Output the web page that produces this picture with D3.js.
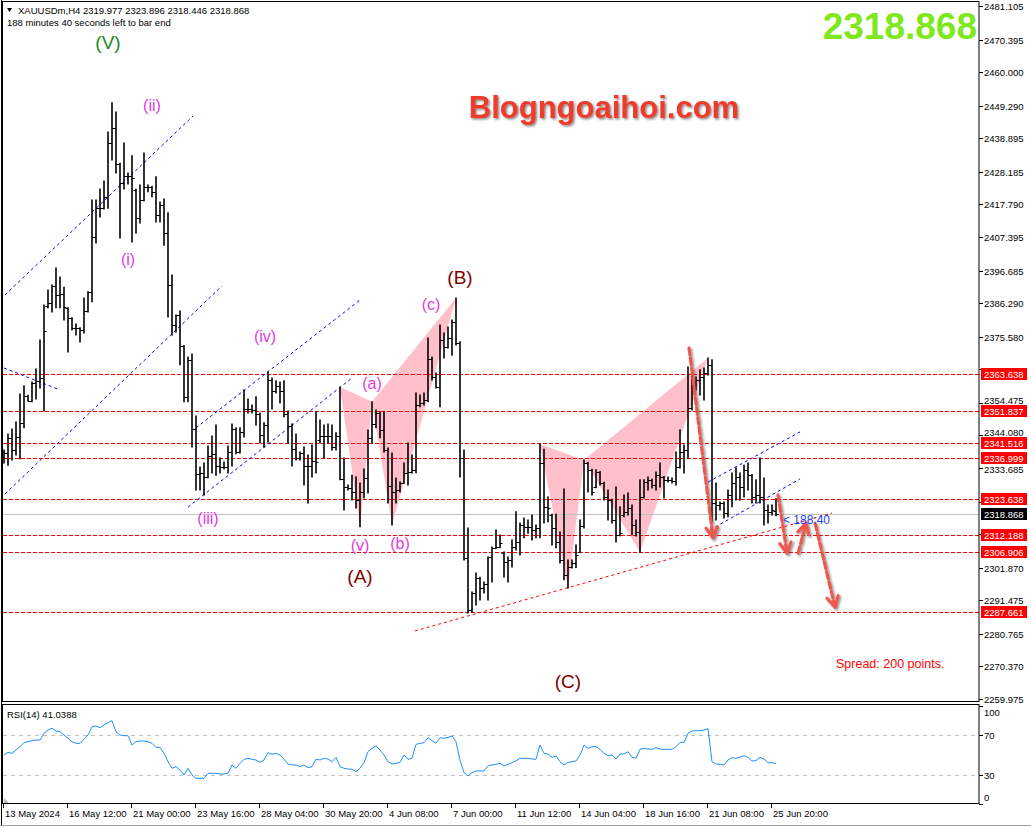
<!DOCTYPE html>
<html>
<head>
<meta charset="utf-8">
<script src="https://cdn.jsdelivr.net/npm/d3@7/dist/d3.min.js"></script>
<style>
  html, body { margin: 0; padding: 0; background: #fff; }
  svg { display: block; font-family: "Liberation Sans", Arial, sans-serif; }
</style>
</head>
<body>
<div id="chart"></div>
<script>
'use strict'

////////////////////////////////////
/////////////// data ///////////////
////////////////////////////////////

const symbol = 'XAUUSDm,H4'
const timeLeft = '188 minutes 40 seconds left to bar end'
const countdown = '< 188:40'
const spreadText = 'Spread: 200 points.'
const logoText = 'Blogngoaihoi.com'

// H4 bars, oldest first (13 May 2024 -> 26 Jun 2024)
const opens = [
  2337.2,2338.5,2343.3,2339.4,2343.6,2348.1,2356.7,2355.1,2360.8,2361.5,
  2362.4,2385.4,2386.3,2391.8,2388.9,2389.2,2384.8,2381.6,2378.4,2378.4,
  2377.7,2383.8,2389.9,2407.4,2416.6,2416.6,2420.2,2437.4,2442.2,2430.7,
  2424.6,2426.9,2426.9,2422.4,2413.5,2419.2,2423.4,2423.4,2421.8,2414.4,
  2417.6,2408.7,2392.1,2379.3,2382.5,2372.6,2356.4,2368.2,2346.1,2331.8,
  2332.1,2330.8,2337.5,2338.2,2334.3,2334.0,2334.0,2338.8,2346.1,2338.8,
  2345.2,2352.5,2352.5,2352.2,2350.9,2344.2,2347.4,2361.8,2358.3,2359.9,
  2358.3,2350.9,2347.1,2339.7,2336.9,2338.5,2334.3,2334.3,2335.9,2342.6,
  2343.9,2343.9,2343.9,2340.4,2343.9,2330.2,2327.6,2327.3,2326.0,2323.5,
  2326.0,2330.5,2343.3,2347.7,2351.2,2345.8,2339.4,2327.9,2326.0,2326.7,
  2328.9,2332.1,2332.4,2333.1,2353.8,2354.4,2355.4,2368.5,2362.7,2359.5,
  2374.5,2372.3,2375.2,2380.3,2373.6,2336.9,2305.0,2288.4,2293.8,2298.6,
  2295.4,2296.7,2305.3,2308.2,2308.5,2306.6,2303.7,2304.3,2308.5,2310.1,
  2315.5,2314.9,2314.9,2313.9,2314.5,2335.3,2321.3,2318.7,2314.5,2310.1,
  2304.3,2299.5,2302.1,2303.4,2306.9,2315.2,2335.3,2333.1,2327.6,2332.4,
  2328.9,2324.4,2323.5,2317.1,2312.3,2318.7,2319.7,2321.0,2315.5,2313.3,
  2324.4,2329.2,2329.9,2328.3,2331.4,2330.8,2329.9,2329.9,2329.5,2334.0,
  2338.8,2339.4,2352.8,2359.2,2361.8,2362.7,2364.0,2366.6,2322.5,2321.9,
  2322.5,2319.4,2325.1,2328.9,2330.8,2327.6,2333.1,2331.4,2324.4,2325.1,
  2324.4,2320.3,2319.7,2319.977
]
const highs = [
  2339.4,2344.5,2346.1,2348.4,2357.3,2359.9,2356.9,2361.1,2365.3,2374.5,
  2385.7,2390.5,2392.1,2397.5,2394.6,2391.4,2384.8,2381.6,2379.6,2378.4,
  2387.9,2389.9,2419.2,2419.2,2422.7,2425.3,2440.9,2450.2,2447.3,2430.9,
  2437.4,2427.8,2433.3,2422.6,2424.0,2434.2,2424.0,2423.6,2426.6,2418.6,
  2419.5,2415.1,2395.3,2382.5,2383.8,2372.8,2369.1,2370.1,2350.3,2334.0,
  2335.3,2340.7,2343.9,2347.4,2336.9,2335.6,2340.7,2347.7,2346.5,2346.5,
  2358.6,2355.7,2353.8,2356.4,2351.2,2348.1,2364.3,2362.4,2361.5,2361.1,
  2361.5,2351.9,2347.7,2344.5,2338.8,2340.4,2337.8,2341.0,2351.6,2349.0,
  2347.4,2347.7,2347.4,2344.9,2359.5,2336.9,2328.3,2331.4,2330.8,2328.9,
  2333.4,2345.8,2354.8,2352.2,2351.6,2351.6,2340.1,2338.5,2330.5,2329.2,
  2335.3,2341.7,2337.8,2357.6,2357.0,2357.6,2375.2,2369.1,2364.0,2379.3,
  2376.8,2378.7,2380.9,2387.9,2374.0,2339.4,2314.5,2294.1,2300.2,2298.8,
  2297.3,2305.3,2308.5,2313.9,2312.3,2306.9,2305.3,2310.7,2319.7,2316.1,
  2317.7,2317.1,2318.7,2315.5,2341.3,2339.7,2324.4,2318.9,2318.9,2313.3,
  2327.0,2304.3,2304.3,2309.1,2317.1,2336.2,2335.5,2333.3,2333.1,2332.6,
  2329.1,2326.7,2323.7,2327.6,2321.3,2325.1,2325.7,2321.9,2317.1,2329.9,
  2329.9,2330.8,2330.1,2332.4,2335.3,2331.0,2330.8,2330.5,2338.8,2345.8,
  2341.0,2365.9,2364.0,2362.7,2365.0,2365.6,2368.8,2368.2,2328.9,2322.8,
  2322.8,2326.7,2332.1,2333.7,2332.1,2334.6,2335.3,2331.6,2329.9,2336.9,
  2330.5,2321.9,2321.9,2323.896
]
const lows = [
  2335.3,2334.6,2336.2,2337.8,2336.6,2346.5,2355.1,2354.8,2355.7,2359.2,
  2351.9,2384.8,2383.5,2384.8,2384.8,2380.9,2370.7,2377.7,2376.1,2373.9,
  2376.8,2383.5,2386.7,2405.5,2413.8,2416.3,2416.6,2432.0,2427.8,2407.1,
  2422.7,2424.3,2405.8,2408.7,2411.9,2419.0,2421.8,2420.2,2412.2,2412.2,
  2404.8,2381.9,2376.1,2377.1,2366.6,2354.8,2354.8,2340.4,2326.7,2326.7,
  2325.1,2330.6,2332.1,2331.4,2332.1,2333.4,2332.1,2334.3,2338.2,2338.5,
  2343.6,2351.2,2351.2,2347.4,2341.7,2340.4,2342.0,2352.5,2357.6,2354.4,
  2350.0,2341.7,2334.3,2336.2,2336.2,2328.3,2322.5,2330.8,2332.1,2341.7,
  2336.9,2341.7,2339.4,2339.4,2329.9,2320.3,2326.7,2323.5,2320.9,2314.9,
  2324.1,2325.7,2341.7,2346.5,2343.3,2338.8,2322.5,2315.5,2322.5,2326.0,
  2328.7,2328.3,2332.1,2332.2,2353.2,2353.8,2354.8,2361.8,2359.2,2353.2,
  2368.8,2372.0,2369.7,2372.9,2330.8,2304.3,2287.4,2287.7,2290.0,2291.6,
  2293.8,2291.6,2297.3,2308.0,2308.3,2298.9,2297.3,2302.1,2307.5,2305.9,
  2311.4,2312.9,2310.7,2311.4,2311.4,2316.1,2316.5,2309.1,2308.2,2303.4,
  2298.0,2295.4,2301.8,2301.9,2306.7,2314.5,2326.0,2325.1,2327.4,2328.3,
  2323.5,2317.1,2316.1,2310.1,2312.1,2318.1,2318.7,2312.3,2312.0,2306.9,
  2324.1,2326.7,2327.3,2326.7,2327.6,2324.1,2329.2,2328.9,2328.3,2333.7,
  2332.1,2336.9,2352.2,2358.6,2357.0,2355.4,2363.4,2316.5,2317.1,2320.3,
  2317.7,2318.1,2321.3,2323.5,2323.5,2324.4,2326.7,2322.5,2322.5,2322.5,
  2315.5,2316.1,2318.7,2318.446
]
const closes = [
  2338.5,2343.3,2339.4,2343.6,2348.1,2356.7,2355.1,2360.8,2361.5,2362.4,
  2377.4,2386.3,2391.8,2388.9,2389.2,2385.1,2381.6,2378.4,2378.4,2377.7,
  2383.8,2389.9,2407.4,2416.6,2416.6,2420.2,2437.4,2442.2,2430.7,2424.6,
  2426.9,2426.9,2426.2,2413.5,2419.2,2423.4,2423.4,2421.8,2414.4,2417.6,
  2408.7,2392.1,2379.3,2382.5,2372.6,2356.4,2368.2,2346.1,2331.8,2332.1,
  2330.8,2337.5,2338.2,2334.3,2334.0,2334.0,2338.8,2346.1,2338.8,2345.2,
  2352.5,2352.5,2352.2,2350.9,2344.2,2347.4,2361.8,2358.3,2359.9,2358.3,
  2350.9,2347.1,2339.7,2336.9,2338.5,2334.3,2334.3,2335.9,2335.6,2343.9,
  2343.9,2343.9,2340.4,2343.9,2330.2,2327.6,2327.3,2326.0,2323.5,2326.0,
  2330.5,2343.3,2347.7,2351.2,2345.8,2339.4,2327.9,2326.0,2326.7,2328.9,
  2332.1,2332.4,2333.1,2353.8,2354.4,2355.4,2368.5,2362.7,2359.5,2374.5,
  2372.3,2375.2,2380.3,2373.6,2336.9,2305.0,2288.4,2293.8,2298.6,2295.4,
  2296.7,2305.3,2308.2,2308.5,2309.8,2303.7,2304.3,2308.5,2310.1,2315.5,
  2314.9,2314.9,2313.9,2314.5,2335.3,2321.3,2321.0,2314.5,2310.1,2304.3,
  2299.5,2302.1,2303.4,2305.9,2315.2,2335.3,2333.1,2326.0,2332.4,2328.9,
  2324.4,2323.5,2317.1,2312.3,2312.9,2319.7,2321.0,2315.5,2313.3,2324.4,
  2329.2,2329.9,2328.3,2331.4,2330.8,2329.9,2329.9,2329.5,2334.0,2338.8,
  2339.4,2352.8,2359.2,2361.8,2362.7,2364.0,2366.6,2322.5,2321.9,2322.5,
  2319.4,2325.1,2328.9,2330.8,2327.6,2333.1,2331.4,2324.4,2325.1,2324.4,
  2320.3,2319.7,2320.3,2318.868
]
const rsi = [
  50.0,52.7,51.7,55.1,58.5,62.6,63.6,64.6,65.3,65.3,
  72.1,75.5,77.2,74.5,73.8,70.4,67.0,63.6,61.9,61.9,
  66.0,70.4,78.9,79.6,77.9,80.6,83.0,85.0,73.8,70.4,
  69.7,69.7,60.2,63.6,64.3,64.3,63.6,61.9,57.8,57.8,
  51.7,43.2,36.4,38.1,34.7,29.6,36.4,29.6,26.2,26.2,
  26.2,31.3,31.3,31.3,30.6,30.6,31.3,39.8,36.4,41.5,
  45.6,46.6,45.6,44.9,42.5,44.9,52.4,50.7,51.7,50.0,
  45.6,40.8,39.8,39.8,38.1,39.8,37.1,38.1,45.6,44.9,
  46.6,45.9,43.2,47.6,38.1,36.4,35.7,35.4,33.0,36.4,
  42.2,53.4,56.8,59.2,55.1,50.0,43.2,40.8,41.5,42.5,
  50.0,45.6,46.6,60.9,61.9,62.6,67.7,64.6,61.9,67.7,
  67.0,68.0,69.4,63.6,44.9,32.0,28.6,32.0,33.7,33.7,
  33.7,38.8,39.8,40.5,41.5,38.8,40.5,42.2,44.0,46.6,
  46.6,46.6,45.9,45.6,60.2,51.7,51.0,47.6,49.0,43.2,
  39.8,42.5,43.2,43.9,50.0,60.2,56.8,58.5,58.5,55.8,
  51.7,49.3,50.0,45.9,51.0,51.0,53.4,47.6,46.6,55.8,
  56.8,56.1,55.8,57.5,56.1,55.8,55.8,55.8,58.5,62.9,
  62.9,72.1,74.5,74.8,74.8,75.5,76.9,43.2,40.8,40.5,
  39.8,44.9,47.3,46.6,47.6,49.3,47.6,43.9,44.2,47.6,
  45.9,42.2,42.2,41.0388
]

// time axis: one label every 16 bars
const timeLabels = ['13 May 2024','16 May 12:00','21 May 00:00','23 May 16:00','28 May 04:00',
  '30 May 20:00','4 Jun 08:00','7 Jun 00:00','11 Jun 12:00','14 Jun 04:00','18 Jun 16:00',
  '21 Jun 08:00','25 Jun 20:00']
const priceTicks = [2481.105,2470.395,2460.000,2449.290,2438.895,2428.185,2417.790,2407.395,
  2396.685,2386.290,2375.580,2365.185,2354.475,2344.080,2333.685,2322.975,2312.580,2301.870,
  2291.475,2280.765,2270.370,2259.975]
const levels = [2363.638,2351.837,2341.516,2336.999,2323.638,2312.188,2306.906,2287.661]
const rsiTicks = [100,70,30,0]
const rsiLevels = [70,30]

// elliott wave labels: text, bar index, price, kind
const waveLabels = [
  ['(V)', 26, 2469.6, 'cycle'],
  ['(ii)', 37, 2449.2, 'minor'],
  ['(i)', 31, 2400.1, 'minor'],
  ['(iii)', 51, 2317.7, 'minor'],
  ['(iv)', 65.25, 2375.5, 'minor'],
  ['(v)', 89, 2309.1, 'minor'],
  ['(a)', 92, 2360.8, 'minor'],
  ['(b)', 99, 2309.7, 'minor'],
  ['(c)', 106.75, 2385.7, 'minor'],
  ['(A)', 89, 2299.2, 'major'],
  ['(B)', 114, 2394.6, 'major'],
  ['(C)', 141, 2265.7, 'major']
]
// channel lines: [bar1, price1, bar2, price2]
const channels = [
  [0.25, 2388.9, 47.25, 2446.0],
  [0.25, 2325.4, 54.5, 2391.8],
  [0, 2365.6, 14, 2358.6],
  [48, 2346.5, 89, 2387.3],
  [46, 2321.2, 87, 2362.4],
  [176, 2329.2, 199, 2345.2],
  [176.5, 2313.9, 199, 2330.2]
]
const trendLines = [[102.75, 2281.7, 207, 2319.3]]
// harmonic patterns X A B C D as bar indices (X,B,D on highs, A,C on lows)
const patterns = [[84, 89, 92, 97, 113], [134, 141, 145, 159, 176]]
// projection arrows: [bar1, price1, bar2, price2]
const arrows = [
  [171.25, 2372.0, 177.25, 2311.4],
  [193.5, 2325.1, 195.75, 2306.5],
  [198.5, 2306.5, 200.5, 2316.1],
  [202.75, 2316.1, 207.75, 2289.3]
]

////////////////////////////////////
//////////// svg setup /////////////
////////////////////////////////////

const svgWidth = 1031, svgHeight = 828
const plot = { left: 3, right: 979, top: 2, bottom: 702 }
const sub = { top: 705, bottom: 804 }
const n = closes.length

const svg = d3.select('#chart').append('svg')
  .attr('width', svgWidth).attr('height', svgHeight)
  .attr('viewBox', `0 0 ${svgWidth} ${svgHeight}`)

svg.append('rect').attr('width', svgWidth).attr('height', svgHeight).attr('fill', '#fff')

const defs = svg.append('defs')
defs.append('clipPath').attr('id', 'clipMain').append('rect')
  .attr('x', plot.left).attr('y', plot.top)
  .attr('width', plot.right - plot.left).attr('height', plot.bottom - plot.top)
const sh = defs.append('filter').attr('id', 'shadow')
  .attr('x', '-50%').attr('y', '-50%').attr('width', '200%').attr('height', '200%')
sh.append('feDropShadow').attr('dx', 1.5).attr('dy', 1.5).attr('stdDeviation', 1.2)
  .attr('flood-color', '#555').attr('flood-opacity', 0.7)

const x = d3.scaleLinear().domain([0, n - 1]).range([4, 4 + 4 * (n - 1)])
const y = d3.scaleLinear().domain([2259.975, 2481.105]).range([699, 6])
const yR = d3.scaleLinear().domain([0, 100]).range([sub.bottom, sub.top + 1])

const main = svg.append('g').attr('clip-path', 'url(#clipMain)')

////////////////////////////////////
///////// harmonic patterns ////////
////////////////////////////////////

patterns.forEach(p => {
  const pts = p.map((b, i) => [x(b), y(i % 2 == 0 ? highs[b] : lows[b])])
  ;[[0, 1, 2], [2, 3, 4]].forEach(tri => {
    main.append('path')
      .attr('d', 'M' + tri.map(k => pts[k].join(',')).join('L') + 'Z')
      .attr('fill', '#ffc0cb')
  })
})

// horizontal levels
main.selectAll('.level').data(levels).join('line')
  .attr('class', 'level')
  .attr('x1', plot.left).attr('x2', plot.right)
  .attr('y1', d => Math.round(y(d)) + 0.5).attr('y2', d => Math.round(y(d)) + 0.5)
  .attr('stroke', '#ff0000').attr('stroke-dasharray', '4,2')

// current price line
const last = closes[n - 1]
main.append('line')
  .attr('x1', plot.left).attr('x2', plot.right)
  .attr('y1', Math.round(y(last)) + 0.5).attr('y2', Math.round(y(last)) + 0.5)
  .attr('stroke', '#c0c0c0')

// channels + trendline
main.selectAll('.chan').data(channels).join('line')
  .attr('class', 'chan')
  .attr('x1', d => x(d[0])).attr('y1', d => y(d[1]))
  .attr('x2', d => x(d[2])).attr('y2', d => y(d[3]))
  .attr('stroke', '#0000ff').attr('stroke-dasharray', '3,3')

main.selectAll('.trend').data(trendLines).join('line')
  .attr('class', 'trend')
  .attr('x1', d => x(d[0])).attr('y1', d => y(d[1]))
  .attr('x2', d => x(d[2])).attr('y2', d => y(d[3]))
  .attr('stroke', '#ff0000').attr('stroke-dasharray', '3,3')

////////////////////////////////////
//////////// ohlc bars /////////////
////////////////////////////////////

const bars = main.append('g').attr('stroke', '#000')
d3.range(n).forEach(i => {
  const cx = x(i)
  bars.append('line').attr('x1', cx).attr('x2', cx)
    .attr('y1', y(highs[i]) - 0.5).attr('y2', y(lows[i]) + 0.5)
    .attr('stroke-width', 1.6)
  bars.append('line').attr('x1', cx - 2.5).attr('x2', cx)
    .attr('y1', Math.round(y(opens[i])) + 0.5).attr('y2', Math.round(y(opens[i])) + 0.5)
  bars.append('line').attr('x1', cx).attr('x2', cx + 2.5)
    .attr('y1', Math.round(y(closes[i])) + 0.5).attr('y2', Math.round(y(closes[i])) + 0.5)
})

////////////////////////////////////
//////////// annotations ///////////
////////////////////////////////////

const labelStyle = {
  cycle: { fill: '#1b8a1b', size: 19 },
  major: { fill: '#800000', size: 19 },
  minor: { fill: '#e23be2', size: 16 }
}
main.selectAll('.wave').data(waveLabels).join('text')
  .attr('class', 'wave')
  .attr('x', d => x(d[1])).attr('y', d => y(d[2]))
  .attr('text-anchor', 'middle').attr('dominant-baseline', 'central')
  .attr('fill', d => labelStyle[d[3]].fill)
  .attr('font-size', d => labelStyle[d[3]].size)
  .text(d => d[0])

const arrowG = main.append('g').attr('filter', 'url(#shadow)')
  .attr('stroke', '#f2564c').attr('stroke-width', 3).attr('fill', 'none')
  .attr('stroke-linecap', 'round')
arrows.forEach(a => {
  const x1 = x(a[0]), y1 = y(a[1]), x2 = x(a[2]), y2 = y(a[3])
  const ang = Math.atan2(y2 - y1, x2 - x1), hl = 12, spread = 0.5
  arrowG.append('line').attr('x1', x1).attr('y1', y1).attr('x2', x2).attr('y2', y2)
    .attr('stroke-dasharray', '7,3')
  arrowG.append('path')
    .attr('d', `M${x2 - hl * Math.cos(ang - spread)},${y2 - hl * Math.sin(ang - spread)}L${x2},${y2}L${x2 - hl * Math.cos(ang + spread)},${y2 - hl * Math.sin(ang + spread)}`)
    .attr('stroke-linejoin', 'round')
})

// countdown next to the last bar
main.append('text')
  .attr('x', x(n - 1) + 7).attr('y', y(last) + 10)
  .attr('fill', '#1f3fff').attr('font-size', 12)
  .text(countdown)

main.append('text')
  .attr('x', 836).attr('y', 668)
  .attr('fill', '#ff0000').attr('font-size', 12.5)
  .text(spreadText)

// logo
main.append('text')
  .attr('x', 604).attr('y', 118).attr('text-anchor', 'middle')
  .attr('font-size', 31).attr('font-weight', 'bold')
  .attr('fill', '#ef3b2c').attr('filter', 'url(#shadow)')
  .text(logoText)

// big last price
main.append('text')
  .attr('x', 977).attr('y', 39).attr('text-anchor', 'end')
  .attr('font-size', 37).attr('font-weight', 'bold')
  .attr('fill', '#7ee81c')
  .text(last.toFixed(3))

// header
svg.append('path').attr('d', 'M7,8L12,8L9.5,12Z').attr('fill', '#000')
svg.append('text').attr('x', 18).attr('y', 14).attr('font-size', 9.5)
  .text(`${symbol}  ${opens[n - 1].toFixed(3)} ${highs[n - 1].toFixed(3)} ${lows[n - 1].toFixed(3)} ${last.toFixed(3)}`)
svg.append('text').attr('x', 7).attr('y', 26).attr('font-size', 9.5).text(timeLeft)

////////////////////////////////////
/////////////// rsi ////////////////
////////////////////////////////////

svg.selectAll('.rlev').data(rsiLevels).join('line')
  .attr('class', 'rlev')
  .attr('x1', plot.left).attr('x2', plot.right)
  .attr('y1', d => Math.round(yR(d)) + 0.5).attr('y2', d => Math.round(yR(d)) + 0.5)
  .attr('stroke', '#c0c0c0').attr('stroke-dasharray', '4,4')

svg.append('path').datum(rsi)
  .attr('d', d3.line().x((d, i) => x(i)).y(d => yR(d)))
  .attr('fill', 'none').attr('stroke', '#1e90ff').attr('stroke-width', 1)

svg.append('text').attr('x', 7).attr('y', 718).attr('font-size', 9.5)
  .text(`RSI(14) ${rsi[n - 1].toFixed(4)}`)

// small grey corner mark of the sub window
svg.append('path').attr('d', `M4,${sub.bottom - 6}L4,${sub.bottom - 1}L9,${sub.bottom - 1}Z`)
  .attr('fill', '#bbb')

////////////////////////////////////
////////////// frames //////////////
////////////////////////////////////

svg.append('rect').attr('x', plot.left - 0.5).attr('y', plot.top - 0.5)
  .attr('width', plot.right - plot.left + 0.5).attr('height', plot.bottom - plot.top)
  .attr('fill', 'none').attr('stroke', '#000')
svg.append('rect').attr('x', plot.left - 0.5).attr('y', sub.top - 0.5)
  .attr('width', plot.right - plot.left + 0.5).attr('height', sub.bottom - sub.top)
  .attr('fill', 'none').attr('stroke', '#000')
svg.append('line').attr('x1', 1.5).attr('x2', 1.5).attr('y1', 0).attr('y2', 826)
  .attr('stroke', '#000')
svg.append('line').attr('x1', 0).attr('x2', svgWidth).attr('y1', 825.5).attr('y2', 825.5)
  .attr('stroke', '#a0a0a0')

////////////////////////////////////
/////////////// axes ///////////////
////////////////////////////////////

const tagged = levels.concat([last])
const axR = svg.append('g').attr('font-size', 9.5)
priceTicks.forEach(p => {
  const py = Math.round(y(p)) + 0.5
  axR.append('line').attr('x1', plot.right).attr('x2', plot.right + 4)
    .attr('y1', py).attr('y2', py).attr('stroke', '#000')
  // labels hidden behind a price tag are not drawn, near ones are nudged clear of it
  const near = tagged.map(t => y(t) - y(p)).filter(d => Math.abs(d) < 11.5)
  if (near.some(d => Math.abs(d) < 6)) return
  const shift = near.length ? (near[0] > 0 ? -(11.5 - near[0]) : 11.5 + near[0]) : 0
  axR.append('text').attr('x', 984).attr('y', py + shift).attr('dominant-baseline', 'central')
    .text(p.toFixed(3))
})
rsiTicks.forEach(v => {
  const py = Math.round(yR(v)) + 0.5
  axR.append('line').attr('x1', plot.right).attr('x2', plot.right + 4)
    .attr('y1', py).attr('y2', py).attr('stroke', '#000')
  axR.append('text').attr('x', 984).attr('y', Math.max(712, Math.min(797, py)))
    .attr('dominant-baseline', 'central').text(v)
})

// level price boxes
const tag = (p, bg) => {
  const py = Math.round(y(p))
  axR.append('rect').attr('x', 981).attr('y', py - 6).attr('width', 46).attr('height', 12)
    .attr('fill', bg)
  axR.append('text').attr('x', 984).attr('y', py).attr('dominant-baseline', 'central')
    .attr('fill', '#fff').text(p.toFixed(3))
}
levels.forEach(p => tag(p, '#ff0000'))
tag(last, '#000')

// time axis
const axB = svg.append('g').attr('font-size', 9.5)
timeLabels.forEach((t, k) => {
  const tx = Math.round(x(k * 16)) - 0.5
  axB.append('line').attr('x1', tx).attr('x2', tx).attr('y1', sub.bottom).attr('y2', sub.bottom + 4)
    .attr('stroke', '#000')
  axB.append('text').attr('x', tx + 1.5).attr('y', 817).text(t)
})
</script>
</body>
</html>
